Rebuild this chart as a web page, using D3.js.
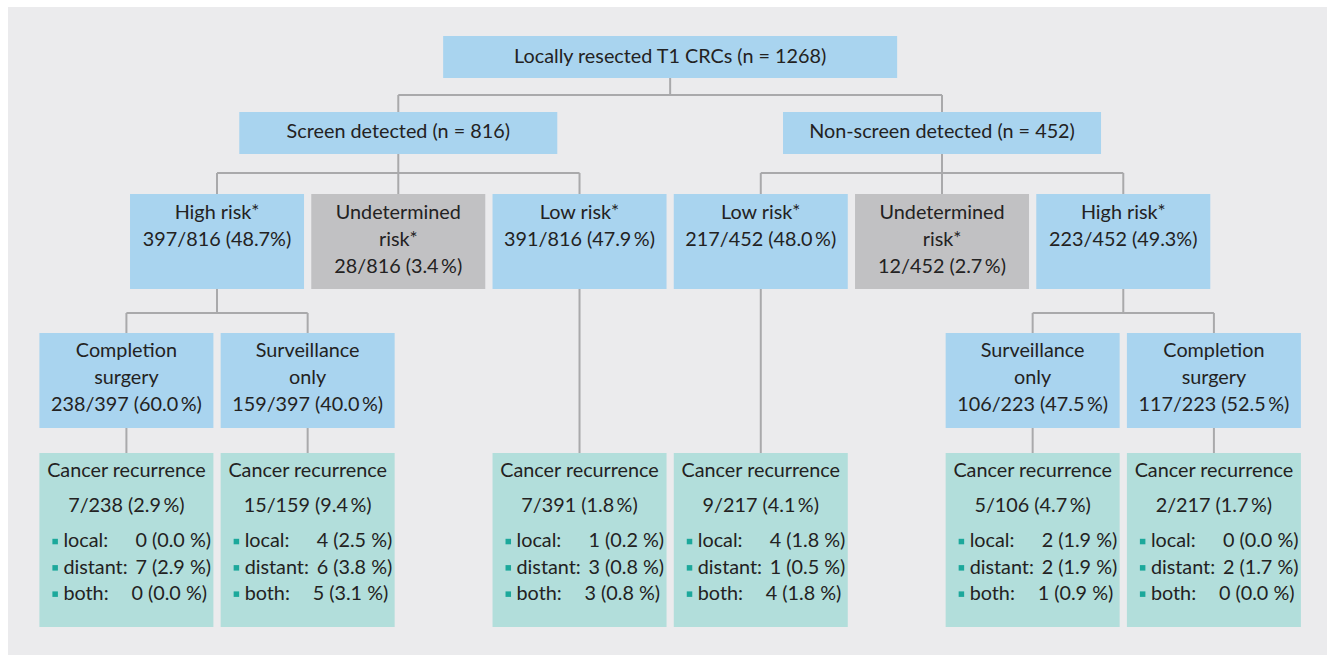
<!DOCTYPE html>
<html>
<head>
<meta charset="utf-8">
<script src="https://cdn.jsdelivr.net/npm/d3@7"></script>
<style>
  html, body { margin: 0; padding: 0; background: #fff; }
  svg text { font-family: Lato, "Open Sans", sans-serif; fill: #232222; }
</style>
</head>
<body>
<svg id="chart" width="1327" height="655"></svg>
<script>
// ---- data ----
const rootLabel = "Locally resected T1 CRCs (n = 1268)";
const groupLabels = ["Screen detected (n = 816)", "Non-screen detected (n = 452)"];

// level 3: risk groups (left to right)
const riskNames = [["High risk*"], ["Undetermined", "risk*"], ["Low risk*"],
                   ["Low risk*"], ["Undetermined", "risk*"], ["High risk*"]];
const riskCounts = ["397/816 (48.7%)", "28/816 (3.4\u2009%)", "391/816 (47.9\u2009%)",
                    "217/452 (48.0\u2009%)", "12/452 (2.7\u2009%)", "223/452 (49.3%)"];
const riskGroup = [0, 0, 0, 1, 1, 1];
const riskUndetermined = [false, true, false, false, true, false];

// level 4: treatment after high risk
const treatNames = [["Completion", "surgery"], ["Surveillance", "only"],
                    ["Surveillance", "only"], ["Completion", "surgery"]];
const treatCounts = ["238/397 (60.0\u2009%)", "159/397 (40.0\u2009%)",
                     "106/223 (47.5\u2009%)", "117/223 (52.5\u2009%)"];
const treatParent = [0, 0, 5, 5];
const treatSide = [-0.5, 0.5, -0.5, 0.5];

// level 5: cancer recurrence
const recCounts = ["7/238 (2.9\u2009%)", "15/159 (9.4\u2009%)", "7/391 (1.8\u2009%)",
                   "9/217 (4.1\u2009%)", "5/106 (4.7\u2009%)", "2/217 (1.7\u2009%)"];
const recLocal   = ["0 (0.0 %)", "4 (2.5 %)", "1 (0.2 %)", "4 (1.8 %)", "2 (1.9 %)", "0 (0.0 %)"];
const recDistant = ["7 (2.9 %)", "6 (3.8 %)", "3 (0.8 %)", "1 (0.5 %)", "2 (1.9 %)", "2 (1.7 %)"];
const recBoth    = ["0 (0.0 %)", "5 (3.1 %)", "3 (0.8 %)", "4 (1.8 %)", "1 (0.9 %)", "0 (0.0 %)"];
// recurrence box hangs under a treatment box (t) or directly under a risk box (r)
const recParent = ["t0", "t1", "r2", "r3", "t2", "t3"];

// ---- layout ----
const svg = d3.select("#chart");
const BLUE = "#a9d4ef", GREY = "#c1c1c3", TEAL = "#b2dedb", LINE = "#a9a9ab";
const FS = 19.8, LH = 26.6;

svg.append("rect").attr("x", 8).attr("y", 7).attr("width", 1319).attr("height", 648)
  .attr("fill", "#ebebed");

// columns of the risk level
const col = d3.scaleBand().domain(d3.range(6)).range([126.4, 1213.9])
  .paddingInner(0.04).paddingOuter(0.02);
const bw = col.bandwidth();
const step = col.step();
const cx = i => col(i) + bw / 2;

const rows = {
  root: [36, 78], grp: [112, 154], risk: [194, 289], treat: [333, 428], rec: [453, 627]
};
const joints = { root: 95, grp: 173, risk: 313 };

const gLines = svg.append("g").attr("fill", "none").attr("stroke", LINE).attr("stroke-width", 2);
const gBoxes = svg.append("g");

function box(x0, x1, row, fill) {
  gBoxes.append("rect").attr("x", x0).attr("y", row[0])
    .attr("width", x1 - x0).attr("height", row[1] - row[0]).attr("fill", fill);
}

function label(x, y, str) {
  const t = gBoxes.append("text").attr("x", x).attr("y", y)
    .attr("text-anchor", "middle").attr("font-size", FS);
  const m = str.match(/^(.*?)(\*?)$/);
  t.append("tspan").text(m[1]);
  if (m[2]) t.append("tspan").attr("font-size", 19).attr("dy", -1).text("*");
  return t;
}

function elbow(px, py, jy, kids, ky) {
  gLines.append("line").attr("x1", px).attr("x2", px).attr("y1", py).attr("y2", jy);
  gLines.append("line").attr("x1", d3.min(kids)).attr("x2", d3.max(kids)).attr("y1", jy).attr("y2", jy);
  kids.forEach(k => gLines.append("line").attr("x1", k).attr("x2", k).attr("y1", jy).attr("y2", ky));
}

// group centres = middle of their outer risk columns
const grpCx = [0, 1].map(g => d3.mean(d3.extent(d3.range(6).filter(i => riskGroup[i] === g).map(cx))));
const rootCx = d3.mean(grpCx);

// root
box(rootCx - 227, rootCx + 227, rows.root, BLUE);
label(rootCx, 62.5, rootLabel);
elbow(rootCx, rows.root[1], joints.root, grpCx, rows.grp[0]);

// groups
groupLabels.forEach((s, g) => {
  box(grpCx[g] - 159, grpCx[g] + 159, rows.grp, BLUE);
  label(grpCx[g], 137.5, s);
  const kids = d3.range(6).filter(i => riskGroup[i] === g).map(cx);
  elbow(grpCx[g], rows.grp[1], joints.grp, kids, rows.risk[0]);
});

// risk boxes
riskNames.forEach((names, i) => {
  box(col(i), col(i) + bw, rows.risk, riskUndetermined[i] ? GREY : BLUE);
  names.concat([riskCounts[i]]).forEach((s, k) => label(cx(i), 219.3 + k * LH, s));
});

// treatment boxes
const treatCx = treatNames.map((_, j) => cx(treatParent[j]) + treatSide[j] * step);
[0, 5].forEach(p => {
  const kids = treatCx.filter((_, j) => treatParent[j] === p);
  elbow(cx(p), rows.risk[1], joints.risk, kids, rows.treat[0]);
});
treatNames.forEach((names, j) => {
  box(treatCx[j] - bw / 2, treatCx[j] + bw / 2, rows.treat, BLUE);
  names.concat([treatCounts[j]]).forEach((s, k) => label(treatCx[j], 357.3 + k * LH, s));
});

// recurrence boxes
recCounts.forEach((s, i) => {
  const p = recParent[i];
  const idx = +p.slice(1);
  const x = p[0] === "t" ? treatCx[idx] : cx(idx);
  const top = p[0] === "t" ? rows.treat[1] : rows.risk[1];
  gLines.append("line").attr("x1", x).attr("x2", x).attr("y1", top).attr("y2", rows.rec[0]);
  const x0 = x - bw / 2;
  box(x0, x0 + bw, rows.rec, TEAL);
  label(x, 477.3, "Cancer recurrence");
  label(x, 512, s);
  const items = [["local:", recLocal[i], 96], ["distant:", recDistant[i], 96], ["both:", recBoth[i], 92]];
  items.forEach(([name, val, off], k) => {
    const y = 547.3 + k * 26.3;
    gBoxes.append("rect").attr("x", x0 + 13).attr("y", y - 8.5).attr("width", 5.5).attr("height", 5.5)
      .attr("fill", "#1ca89b");
    gBoxes.append("text").attr("x", x0 + 24).attr("y", y).attr("font-size", FS).text(name);
    gBoxes.append("text").attr("x", x0 + off).attr("y", y).attr("font-size", FS).text(val);
  });
});
</script>
</body>
</html>
